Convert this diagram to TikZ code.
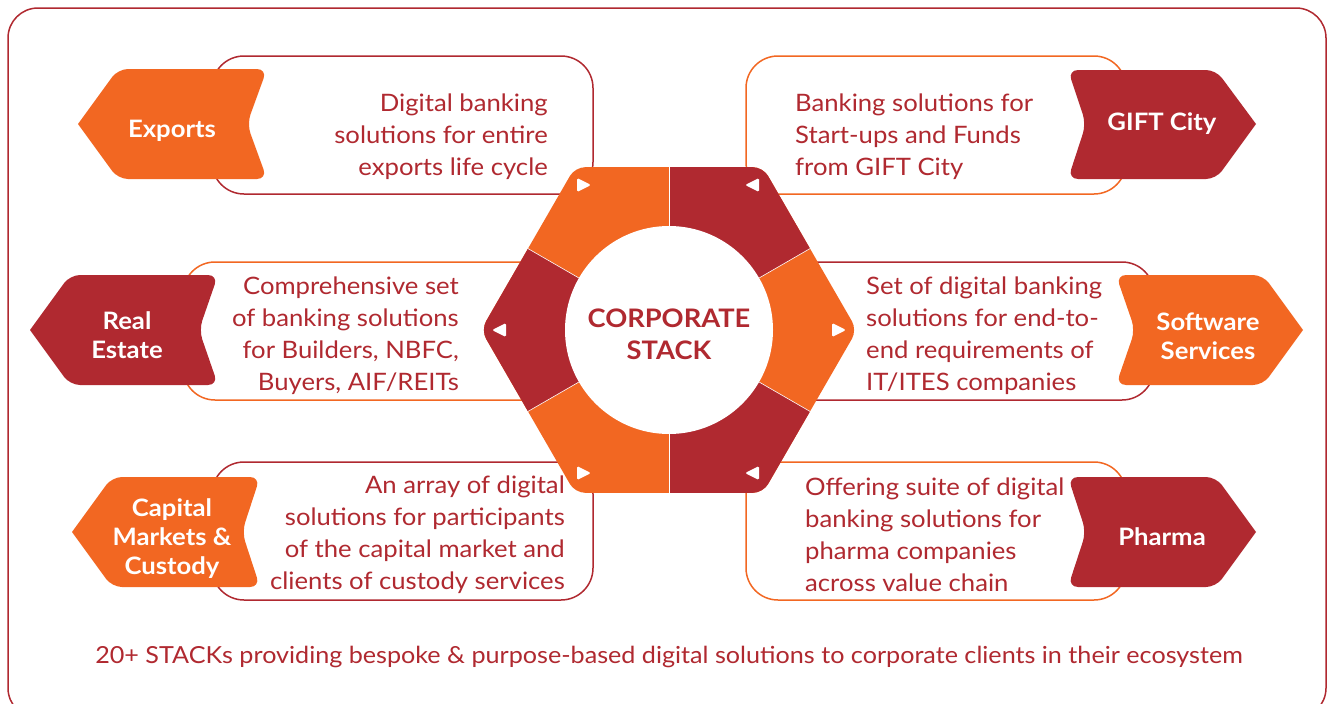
\documentclass[tikz,border=0pt]{standalone}
\usepackage{fontspec}
\setmainfont{Lato}[FakeStretch=1.07]
\definecolor{corgO}{RGB}{242,103,34}
\definecolor{corgR}{RGB}{176,41,48}
\begin{document}
\begin{tikzpicture}[x=1pt,y=-1pt,
  boxR/.style={draw=corgR, line width=1.5pt, rounded corners=32pt},
  boxO/.style={draw=corgO, line width=1.5pt, rounded corners=32pt},
  desc/.style={text=corgR, font=\fontsize{24}{32}\selectfont, inner sep=0pt},
  tagtext/.style={text=white, font=\bfseries\fontsize{24}{29}\selectfont, align=center, inner sep=0pt},
  tagO/.style={fill=corgO, rounded corners=10pt},
  tagR/.style={fill=corgR, rounded corners=10pt},
  tri/.style={fill=white, rounded corners=1.5pt},
]
\useasboundingbox (0,0) rectangle (1334,704);
\clip (0,0) rectangle (1334,704);
\fill[white] (0,0) rectangle (1334,704);
% outer frame
\draw[corgR, line width=1.5pt, rounded corners=30pt] (8,8) rectangle (1326,718);

% description boxes
\draw[boxR] (212,56) rectangle (593,194);
\draw[boxO] (746,56) rectangle (1126,194);
\draw[boxO] (183,262) rectangle (560,400);
\draw[boxR] (780,262) rectangle (1154,400);
\draw[boxR] (212,462) rectangle (593,600);
\draw[boxO] (746,462) rectangle (1126,600);

% tags pointing left
\path[tagO] (78,124) -- (118,69) -- (267,69) -- (247,124) -- (267,179) -- (118,179) -- (78,124);
\path[tagR] (30,330) -- (70,275) -- (218,275) -- (199,330) -- (218,385) -- (70,385) -- (30,330);
\path[tagO] (72,532) -- (112,477) -- (260,477) -- (242,532) -- (260,587) -- (112,587) -- (72,532);
% tags pointing right
\path[tagR] (1256,124) -- (1216,179) -- (1068,179) -- (1086,124) -- (1068,70) -- (1216,70) -- (1256,124);
\path[tagO] (1303,330) -- (1263,385) -- (1116,385) -- (1135,330) -- (1116,275) -- (1263,275) -- (1303,330);
\path[tagR] (1256,532) -- (1216,587) -- (1068,587) -- (1086,532) -- (1068,477) -- (1216,477) -- (1256,532);

\node[tagtext] (exports) at (172,131) {Exports};
\node[tagtext] (gift) at (1162,124) {GIFT City};
\node[tagtext] (realestate) at (127,335) {Real\\Estate};
\node[tagtext] (software) at (1208,336) {Software\\Services};
\node[tagtext] (capital) at (172,538.5) {Capital\\Markets \&\\Custody};
\node[tagtext] (pharma) at (1162,537) {Pharma};

% hexagon
\begin{scope}[shift={(669,330)}, y=1pt]
  \begin{scope}
    \clip[rounded corners=10pt] (0,162.8) -- (120:188) -- (180:188) -- (240:188) -- (300:188) -- (0:188) -- (60:188) -- cycle;
    \fill[corgO] (-200,-200) rectangle (200,200);
    \fill[corgR] (0,0) -- (30:260) arc[start angle=30, end angle=90, radius=260] -- cycle;
    \fill[corgR] (0,0) -- (150:260) arc[start angle=150, end angle=210, radius=260] -- cycle;
    \fill[corgR] (0,0) -- (270:260) arc[start angle=270, end angle=330, radius=260] -- cycle;
    \foreach \a in {30,90,150,210,270,330}
      \draw[white, line width=0.6pt] (0,0) -- (\a:220);
  \end{scope}
  \fill[white] (0,0) circle[radius=104];
  % markers
  \path[tri] (-92,152) -- (-78,145) -- (-92,138) -- cycle;
  \path[tri] (90,152) -- (76,145) -- (90,138) -- cycle;
  \path[tri] (-163,7) -- (-177,0) -- (-163,-7) -- cycle;
  \path[tri] (163,7) -- (177,0) -- (163,-7) -- cycle;
  \path[tri] (-92,-136) -- (-78,-143) -- (-92,-150) -- cycle;
  \path[tri] (90,-136) -- (76,-143) -- (90,-150) -- cycle;
  \node[text=corgR, font=\bfseries\fontsize{25.5}{32}\selectfont, align=center, inner sep=0pt] (core) at (0,-4) {CORPORATE\\STACK};
\end{scope}

% descriptions
\node[desc, align=right, anchor=east] (dexp) at (548,136.5) {Digital banking\\solutions for entire\\exports life cycle};
\node[desc, align=left, anchor=west] (dgift) at (795,136.5) {Banking solutions for\\Start-ups and Funds\\from GIFT City};
\node[desc, align=right, anchor=east] (dre) at (459,335.5) {Comprehensive set\\of banking solutions\\for Builders, NBFC,\\Buyers, AIF/REITs};
\node[desc, align=left, anchor=west] (dsw) at (866,335.5) {Set of digital banking\\solutions for end-to-\\end requirements of\\IT/ITES companies};
\node[desc, align=right, anchor=east] (dcap) at (565,535) {An array of digital\\solutions for participants\\of the capital market and\\clients of custody services};
\node[desc, align=left, anchor=west] (dph) at (805,535) {Offering suite of digital\\banking solutions for\\pharma companies\\across value chain};

\node[text=corgR, font=\fontsize{23.5}{28}\selectfont, inner sep=0pt] (footer) at (669,657) {20+ STACKs providing bespoke \& purpose-based digital solutions to corporate clients in their ecosystem};
\end{tikzpicture}
\end{document}
